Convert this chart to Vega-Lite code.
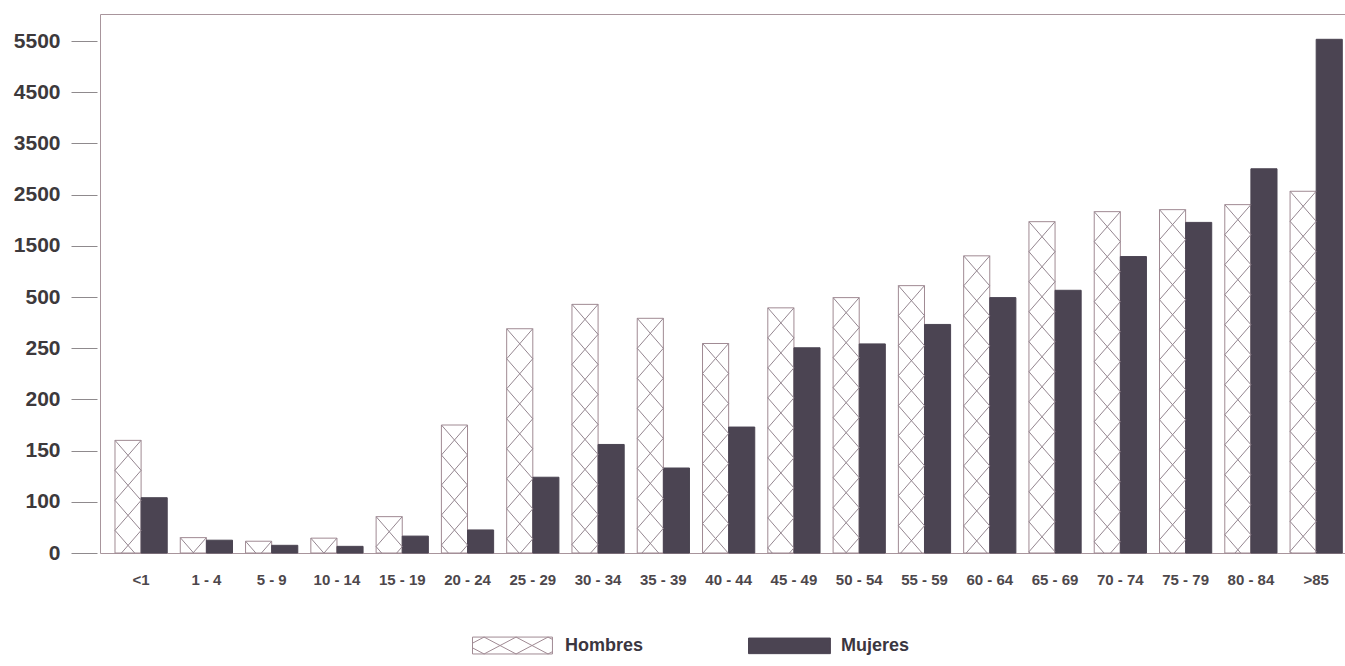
{
  "$schema": "https://vega.github.io/schema/vega-lite/v6.json",
  "width": 1245,
  "height": 539,
  "autosize": {"type": "none"},
  "padding": {"left": 100, "top": 14, "right": 0, "bottom": 113},
  "background": "white",
  "config": {
    "font": "Liberation Sans",
    "view": {"stroke": "#a8959c", "strokeWidth": 1}
  },
  "data": {
    "values": [
      {"edad": "<1", "sexo": "Hombres", "casos": 160},
      {"edad": "<1", "sexo": "Mujeres", "casos": 104},
      {"edad": "1-4", "sexo": "Hombres", "casos": 30},
      {"edad": "1-4", "sexo": "Mujeres", "casos": 25},
      {"edad": "5-9", "sexo": "Hombres", "casos": 23},
      {"edad": "5-9", "sexo": "Mujeres", "casos": 15},
      {"edad": "10-14", "sexo": "Hombres", "casos": 29},
      {"edad": "10-14", "sexo": "Mujeres", "casos": 13},
      {"edad": "15-19", "sexo": "Hombres", "casos": 71},
      {"edad": "15-19", "sexo": "Mujeres", "casos": 33},
      {"edad": "20-24", "sexo": "Hombres", "casos": 175},
      {"edad": "20-24", "sexo": "Mujeres", "casos": 45},
      {"edad": "25-29", "sexo": "Hombres", "casos": 345},
      {"edad": "25-29", "sexo": "Mujeres", "casos": 124},
      {"edad": "30-34", "sexo": "Hombres", "casos": 464},
      {"edad": "30-34", "sexo": "Mujeres", "casos": 156},
      {"edad": "35-39", "sexo": "Hombres", "casos": 396},
      {"edad": "35-39", "sexo": "Mujeres", "casos": 133},
      {"edad": "40-44", "sexo": "Hombres", "casos": 273},
      {"edad": "40-44", "sexo": "Mujeres", "casos": 173},
      {"edad": "45-49", "sexo": "Hombres", "casos": 447},
      {"edad": "45-49", "sexo": "Mujeres", "casos": 252},
      {"edad": "50-54", "sexo": "Hombres", "casos": 497},
      {"edad": "50-54", "sexo": "Mujeres", "casos": 271},
      {"edad": "55-59", "sexo": "Hombres", "casos": 722},
      {"edad": "55-59", "sexo": "Mujeres", "casos": 366},
      {"edad": "60-64", "sexo": "Hombres", "casos": 1304},
      {"edad": "60-64", "sexo": "Mujeres", "casos": 497},
      {"edad": "65-69", "sexo": "Hombres", "casos": 1971},
      {"edad": "65-69", "sexo": "Mujeres", "casos": 631},
      {"edad": "70-74", "sexo": "Hombres", "casos": 2167},
      {"edad": "70-74", "sexo": "Mujeres", "casos": 1290},
      {"edad": "75-79", "sexo": "Hombres", "casos": 2206},
      {"edad": "75-79", "sexo": "Mujeres", "casos": 1957},
      {"edad": "80-84", "sexo": "Hombres", "casos": 2304},
      {"edad": "80-84", "sexo": "Mujeres", "casos": 3004},
      {"edad": ">85", "sexo": "Hombres", "casos": 2565},
      {"edad": ">85", "sexo": "Mujeres", "casos": 5533}
    ]
  },
  "encoding": {
    "x": {
      "field": "edad",
      "type": "nominal",
      "sort": null,
      "scale": {"paddingInner": 0.2, "paddingOuter": 0.1356, "align": 0.847, "round": false},
      "axis": {
        "title": null,
        "domain": false,
        "ticks": false,
        "labelAngle": 0,
        "labelPadding": 19,
        "labelFontSize": 15,
        "labelFontWeight": "bold",
        "labelColor": "#4d474b",
        "labelExpr": "replace(datum.label, '-', ' - ')"
      }
    },
    "xOffset": {
      "field": "sexo",
      "type": "nominal",
      "scale": {"domain": ["Hombres", "Mujeres"], "paddingInner": 0, "paddingOuter": 0, "round": false}
    },
    "y": {
      "field": "casos",
      "type": "quantitative",
      "scale": {
        "type": "linear",
        "domain": [0, 100, 150, 200, 250, 500, 1500, 2500, 3500, 4500, 5500],
        "range": [539, 487.8, 436.6, 385.4, 334.2, 283, 231.8, 180.6, 129.4, 78.2, 27],
        "nice": false,
        "zero": false
      },
      "axis": {
        "title": null,
        "domain": false,
        "grid": false,
        "values": [0, 100, 150, 200, 250, 500, 1500, 2500, 3500, 4500, 5500],
        "format": "d",
        "offset": 3,
        "tickSize": 26,
        "tickColor": "#8f8a8d",
        "tickWidth": 1,
        "labelPadding": 11,
        "labelFontSize": 21,
        "labelFontWeight": "bold",
        "labelColor": "#3d393c"
      }
    }
  },
  "layer": [
    {
      "mark": {"type": "bar", "strokeWidth": 1},
      "encoding": {
        "y2": {"datum": 0},
        "color": {
          "field": "sexo",
          "type": "nominal",
          "scale": {"domain": ["Hombres", "Mujeres"], "range": ["#ffffff", "#4b4452"]},
          "legend": {
            "title": null,
            "orient": "none",
            "direction": "horizontal",
            "legendX": 372,
            "legendY": 618,
            "padding": 0,
            "symbolSize": 676,
            "symbolStrokeWidth": 1,
            "labelOffset": 66,
            "columnPadding": 102,
            "labelFontSize": 18,
            "labelFontWeight": "bold",
            "labelColor": "#3b3640",
            "labelFont": "Liberation Sans",
            "encode": {
              "symbols": {
                "update": {
                  "shape": {"signal": "datum.value === 'Hombres' ? 'M-1,-0.65H5.15V0.65H-1Z M-0.11,-0.65L2.35,0.65 M2.35,-0.65L-0.11,0.65 M2.35,-0.65L4.81,0.65 M4.81,-0.65L2.35,0.65 M-1,0.18L-0.11,0.65 M-1,-0.18L-0.11,-0.65 M4.81,-0.65L5.15,-0.47 M4.81,0.65L5.15,0.47' : 'M-1,-0.6H5.3V0.6H-1Z'"},
                  "fill": {"signal": "datum.value === 'Hombres' ? '#ffffff' : '#4b4452'"},
                  "stroke": {"signal": "datum.value === 'Hombres' ? '#a39aa0' : '#4b4452'"},
                  "opacity": {"value": 1},
                  "fillOpacity": {"value": 1}
                }
              }
            }
          }
        },
        "stroke": {
          "field": "sexo",
          "type": "nominal",
          "scale": {"domain": ["Hombres", "Mujeres"], "range": ["#a08a93", "#4b4452"]},
          "legend": null
        }
      }
    },
    {
      "transform": [{"filter": "datum.sexo === 'Hombres'"}],
      "mark": {
        "type": "point",
        "shape": "M-1,0L1,2.3L-1,4.6L1,6.9L-1,9.2L1,11.5L-1,13.8L1,16.1L-1,18.4L1,20.7L-1,23L1,25.3L-1,27.6L1,29.9L-1,32.2L1,34.5L-1,36.8L1,39.1L-1,41.4L1,43.7 M1,0L-1,2.3L1,4.6L-1,6.9L1,9.2L-1,11.5L1,13.8L-1,16.1L1,18.4L-1,20.7L1,23L-1,25.3L1,27.6L-1,29.9L1,32.2L-1,34.5L1,36.8L-1,39.1L1,41.4L-1,43.7",
        "size": 681,
        "filled": false,
        "stroke": "#958690",
        "strokeWidth": 1,
        "opacity": 1,
        "clip": true
      },
      "encoding": {}
    }
  ]
}
